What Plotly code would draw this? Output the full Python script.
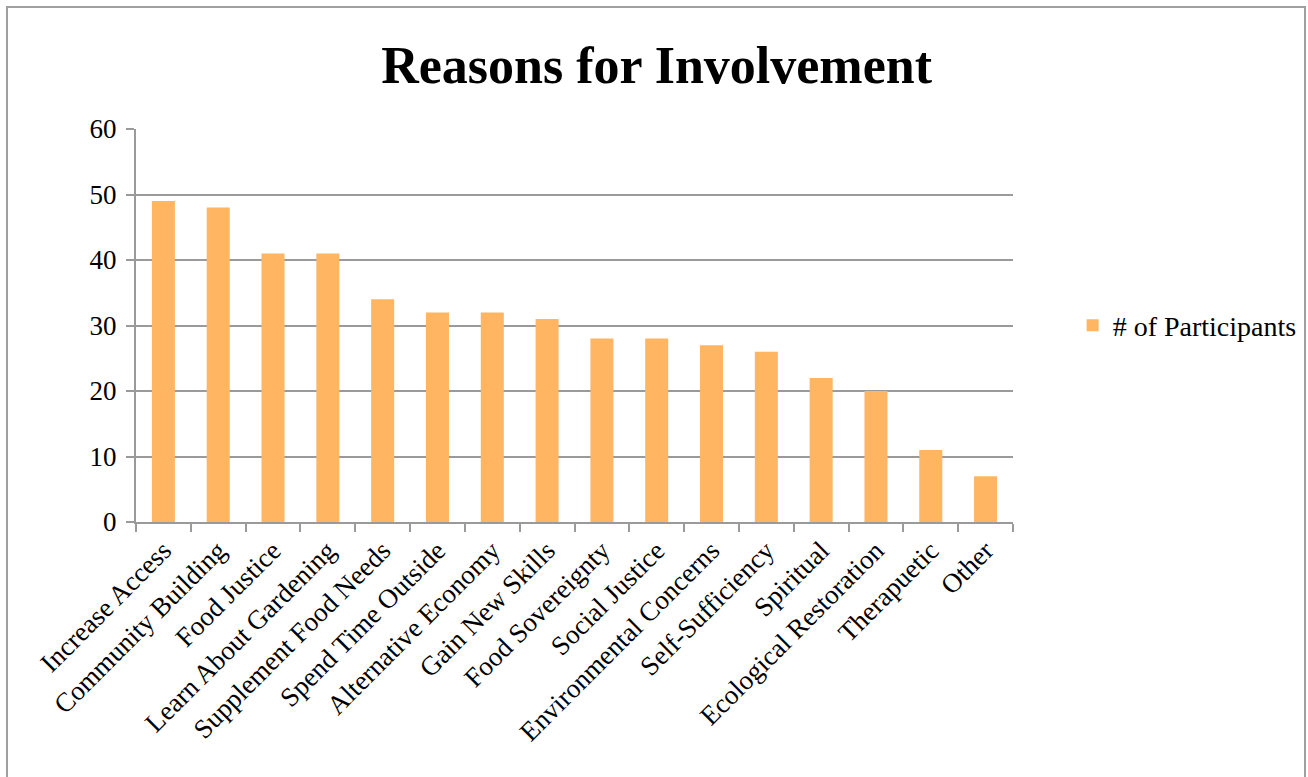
import plotly.graph_objects as go

categories = ["Increase Access", "Community Building", "Food Justice", "Learn About Gardening",
              "Supplement Food Needs", "Spend Time Outside", "Alternative Economy", "Gain New Skills",
              "Food Sovereignty", "Social Justice", "Environmental Concerns", "Self-Sufficiency",
              "Spiritual", "Ecological Restoration", "Therapuetic", "Other"]
participants = [49, 48, 41, 41, 34, 32, 32, 31, 28, 28, 27, 26, 22, 20, 11, 7]
y_ticks = [0, 10, 20, 30, 40, 50, 60]

FONT = "Liberation Serif"
GRID = "#9a9a9a"

fig = go.Figure()
fig.add_trace(go.Bar(
    x=categories, y=participants, name="# of Participants",
    marker=dict(color="#FFB562", line=dict(width=0)),
    showlegend=True,
))

fig.update_layout(
    width=1308, height=777,
    margin=dict(l=136, r=295, t=129, b=255, autoexpand=False),
    paper_bgcolor="white", plot_bgcolor="white",
    bargap=0.58,
    title=dict(text="<b>Reasons for Involvement</b>", x=0.502, xanchor="center",
               xref="container", y=0.917, yanchor="middle",
               font=dict(family=FONT, size=52, color="black")),
    font=dict(family=FONT, color="black"),
    showlegend=True,
    legend=dict(x=1.068, xanchor="left", y=0.5, yanchor="middle",
                font=dict(family=FONT, size=28, color="black"),
                itemwidth=30, bgcolor="rgba(0,0,0,0)"),
    xaxis=dict(type="category", tickangle=-45, tickfont=dict(size=27, family=FONT),
               showline=True, linecolor=GRID, linewidth=2,
               ticks="outside", tickson="boundaries", ticklen=8, tickcolor=GRID, tickwidth=2,
               showgrid=False),
    yaxis=dict(range=[0, 60], tickvals=y_ticks, tickfont=dict(size=27, family=FONT),
               showline=True, linecolor=GRID, linewidth=2,
               ticks="outside", ticklen=8, tickcolor=GRID, tickwidth=2, ticklabelstandoff=4,
               showgrid=True, gridcolor=GRID, gridwidth=2, zeroline=False),
    shapes=[dict(type="rect", xref="paper", yref="paper",
                 x0=(7 - 136) / 877, x1=(1305 - 136) / 877,
                 y0=(522 - 800) / 393, y1=(522 - 7) / 393,
                 line=dict(color="#a0a0a0", width=2), fillcolor="rgba(0,0,0,0)", layer="below")],
)

fig.write_html("out.html")
